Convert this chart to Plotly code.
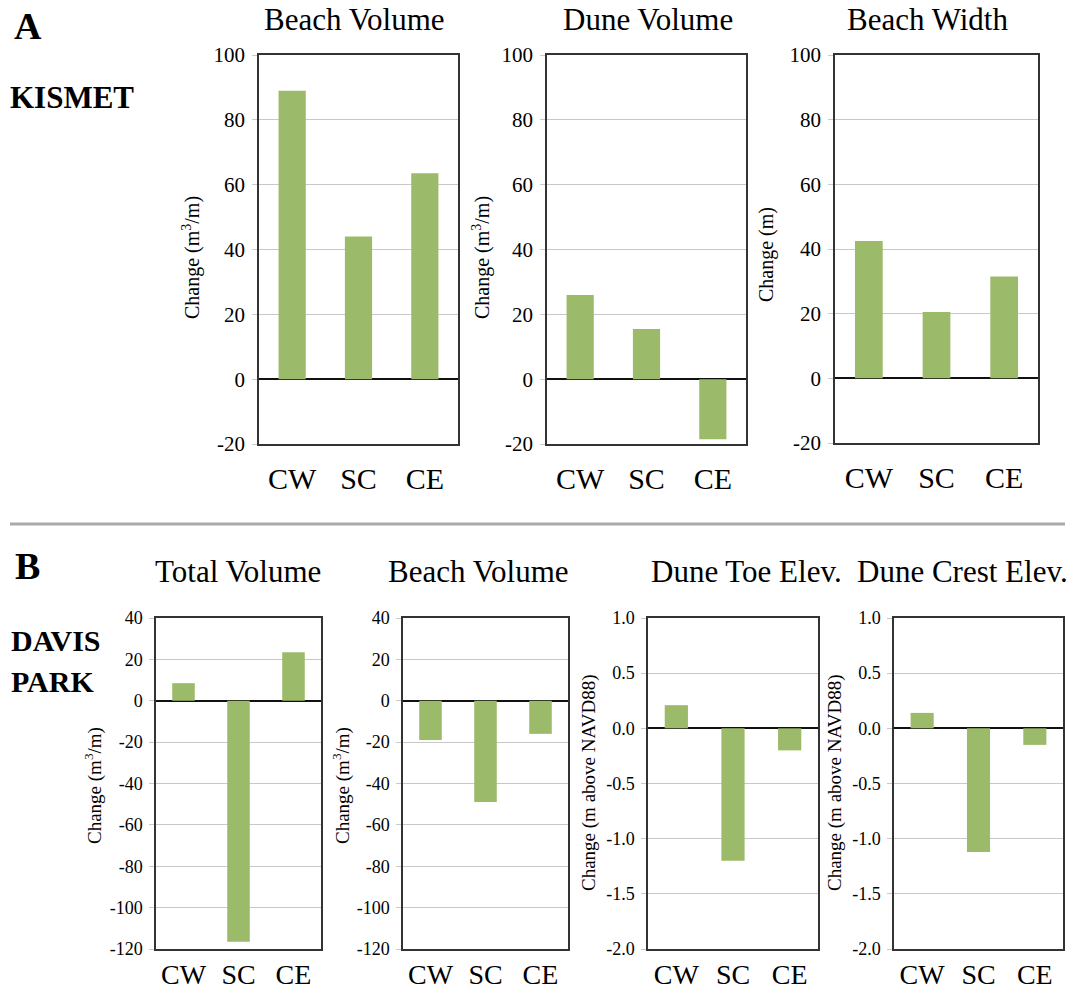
import plotly.graph_objects as go

W, H = 1072, 995

categories = ["CW", "SC", "CE"]

# Panel A (KISMET)
kismet_beach_volume = [89, 44, 63.5]
kismet_dune_volume = [26, 15.5, -18.5]
kismet_beach_width = [42.5, 20.5, 31.5]

# Panel B (DAVIS PARK)
davis_total_volume = [8.5, -116.5, 23.5]
davis_beach_volume = [-19, -49, -16]
davis_dune_toe = [0.21, -1.2, -0.2]
davis_dune_crest = [0.14, -1.12, -0.15]

# Tick values / labels
top_tickvals = [-20, 0, 20, 40, 60, 80, 100]
top_ticktext = ["-20", "0", "20", "40", "60", "80", "100"]
vol_tickvals = [-120, -100, -80, -60, -40, -20, 0, 20, 40]
vol_ticktext = ["-120", "-100", "-80", "-60", "-40", "-20", "0", "20", "40"]
elev_tickvals = [-2.0, -1.5, -1.0, -0.5, 0.0, 0.5, 1.0]
elev_ticktext = ["-2.0", "-1.5", "-1.0", "-0.5", "0.0", "0.5", "1.0"]

panel_titles = ["Beach Volume", "Dune Volume", "Beach Width",
                "Total Volume", "Beach Volume", "Dune Toe Elev.", "Dune Crest Elev."]
ytitle_vol = "Change (m<sup>3</sup>/m)"
ytitle_width = "Change (m)"
ytitle_elev = "Change (m above NAVD88)"

FONT = "Liberation Serif"
BAR = "#9cbb6a"

# pixel boxes (left, right, top, bottom)
panels = [
    dict(vals=kismet_beach_volume, box=(259, 458, 55, 444), rng=[-20, 100],
         tv=top_tickvals, tt=top_ticktext, top=True),
    dict(vals=kismet_dune_volume, box=(547, 746, 55, 444), rng=[-20, 100],
         tv=top_tickvals, tt=top_ticktext, top=True),
    dict(vals=kismet_beach_width, box=(835, 1038, 55, 443), rng=[-20, 100],
         tv=top_tickvals, tt=top_ticktext, top=True),
    dict(vals=davis_total_volume, box=(156, 321, 618, 949), rng=[-120, 40],
         tv=vol_tickvals, tt=vol_ticktext, top=False),
    dict(vals=davis_beach_volume, box=(403, 568, 618, 949), rng=[-120, 40],
         tv=vol_tickvals, tt=vol_ticktext, top=False),
    dict(vals=davis_dune_toe, box=(648, 818, 618, 949), rng=[-2.0, 1.0],
         tv=elev_tickvals, tt=elev_ticktext, top=False),
    dict(vals=davis_dune_crest, box=(894, 1063, 618, 949), rng=[-2.0, 1.0],
         tv=elev_tickvals, tt=elev_ticktext, top=False),
]

fig = go.Figure()
layout = dict(
    width=W, height=H,
    margin=dict(l=0, r=0, t=0, b=0, pad=0, autoexpand=False),
    paper_bgcolor="white", plot_bgcolor="white",
    showlegend=False,
    font=dict(family=FONT, color="black", size=18),
)

for i, p in enumerate(panels):
    n = "" if i == 0 else str(i + 1)
    l, r, t, b = p["box"]
    fig.add_trace(go.Bar(
        x=categories, y=p["vals"], width=0.41,
        marker=dict(color=BAR, line=dict(width=0)),
        xaxis="x" + n, yaxis="y" + n, hoverinfo="x+y",
    ))
    tick_sz = 21 if p["top"] else 18
    xlab_sz = 30 if p["top"] else 28
    layout["xaxis" + n] = dict(
        domain=[l / W, r / W], anchor="y" + n,
        automargin=False, type="category",
        showline=True, mirror=True, linecolor="#333", linewidth=1.5,
        showgrid=False, zeroline=False, ticks="",
        tickfont=dict(size=xlab_sz, family=FONT, color="black"),
        ticklabelstandoff=7 if p["top"] else 0,
        fixedrange=True,
    )
    layout["yaxis" + n] = dict(
        domain=[1 - b / H, 1 - t / H], anchor="x" + n,
        automargin=False,
        range=p["rng"], tickvals=p["tv"], ticktext=p["tt"],
        showline=True, mirror=True, linecolor="#333", linewidth=1.5,
        showgrid=True, gridcolor="#c8c8c8", gridwidth=1,
        zeroline=True, zerolinecolor="#111", zerolinewidth=2,
        ticks="outside", ticklen=5, tickcolor="#c8c8c8",
        ticklabelstandoff=3,
        tickfont=dict(size=tick_sz, family=FONT, color="black"),
        fixedrange=True,
    )

ann = []

def add_text(txt, px, py, size, bold=False, xanchor="center", angle=0):
    ann.append(dict(
        text=("<b>%s</b>" % txt) if bold else txt,
        x=px / W, y=1 - py / H, xref="paper", yref="paper",
        xanchor=xanchor, yanchor="middle", showarrow=False,
        textangle=angle, font=dict(size=size, family=FONT, color="black"),
    ))

# Panel titles
title_pos = [(354, 20), (648, 20), (927, 20), (238, 571), (478, 571), (746, 571), (962, 571)]
for ttl, (px, py) in zip(panel_titles, title_pos):
    add_text(ttl, px, py, 31)

# Section labels
add_text("A", 12, 26, 38, bold=True, xanchor="left")
add_text("KISMET", 8, 97, 31, bold=True, xanchor="left")
add_text("B", 13, 566, 38, bold=True, xanchor="left")
add_text("DAVIS", 9, 640, 30, bold=True, xanchor="left")
add_text("PARK", 9, 681, 30, bold=True, xanchor="left")

# Y-axis titles
add_text(ytitle_vol, 192, 258, 20, angle=-90)
add_text(ytitle_vol, 482, 258, 20, angle=-90)
add_text(ytitle_width, 766, 255, 20, angle=-90)
add_text(ytitle_vol, 93, 786, 19, angle=-90)
add_text(ytitle_vol, 341, 786, 19, angle=-90)
add_text(ytitle_elev, 589, 783, 19, angle=-90)
add_text(ytitle_elev, 835, 783, 19, angle=-90)

layout["annotations"] = ann
layout["shapes"] = [dict(
    type="line", xref="paper", yref="paper",
    x0=10 / W, x1=1065 / W, y0=1 - 524 / H, y1=1 - 524 / H,
    line=dict(color="#aaaaaa", width=3),
)]

fig.update_layout(**layout)
fig.write_html("out.html")
